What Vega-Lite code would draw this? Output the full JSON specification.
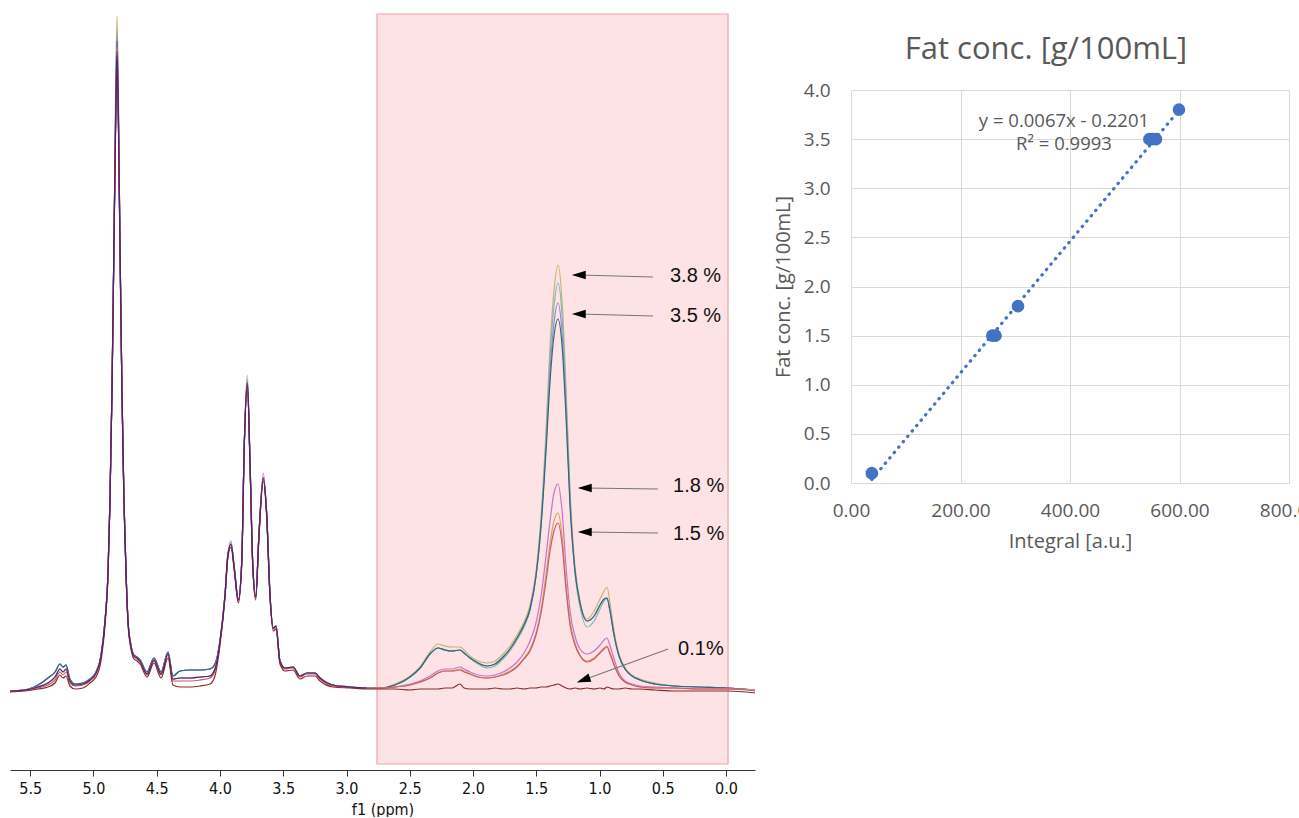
{
  "$schema": "https://vega.github.io/schema/vega-lite/v6.json",
  "padding": {"left": 10, "top": 13, "right": 0, "bottom": 0},
  "background": "white",
  "config": {"view": {"stroke": null}},
  "datasets": {
    "spec": [
      {"x":5.66,"a":0,"b":0,"c":0,"d":0,"e":0,"f":0,"g":0,"h":-1,"p":0},
      {"x":5.542,"a":1,"b":1,"c":1,"d":1,"e":1,"f":1,"g":1,"h":0,"p":1},
      {"x":5.439,"a":6,"b":6,"c":6,"d":6,"e":4,"f":4,"g":3,"h":2,"p":4},
      {"x":5.36,"a":13,"b":13,"c":13,"d":13,"e":8,"f":8,"g":6,"h":4,"p":8},
      {"x":5.304,"a":19,"b":19,"c":19,"d":19,"e":14,"f":14,"g":11,"h":8,"p":14},
      {"x":5.265,"a":27,"b":27,"c":27,"d":27,"e":22,"f":22,"g":19,"h":16,"p":22},
      {"x":5.241,"a":24,"b":24,"c":24,"d":24,"e":19,"f":19,"g":16,"h":13,"p":19},
      {"x":5.217,"a":26,"b":26,"c":26,"d":26,"e":22,"f":22,"g":19,"h":15,"p":22},
      {"x":5.186,"a":12,"b":12,"c":12,"d":12,"e":10,"f":10,"g":8,"h":5,"p":10},
      {"x":5.146,"a":7,"b":7,"c":7,"d":7,"e":6,"f":6,"g":5,"h":2,"p":6},
      {"x":5.083,"a":8,"b":8,"c":8,"d":8,"e":7,"f":7,"g":6,"h":3,"p":7},
      {"x":5.028,"a":12,"b":12,"c":12,"d":12,"e":11,"f":11,"g":10,"h":8,"p":11},
      {"x":4.98,"a":19,"b":19,"c":19,"d":19,"e":18,"f":18,"g":17,"h":14,"p":18},
      {"x":4.941,"a":35,"b":35,"c":35,"d":35,"e":35,"f":35,"g":34,"h":30,"p":35},
      {"x":4.909,"a":70,"b":70,"c":70,"d":70,"e":70,"f":70,"g":69,"h":66,"p":70},
      {"x":4.885,"a":120,"b":120,"c":120,"d":120,"e":120,"f":120,"g":119,"h":116,"p":120},
      {"x":4.87,"a":190,"b":190,"c":190,"d":190,"e":190,"f":190,"g":189,"h":186,"p":190},
      {"x":4.854,"a":300,"b":300,"c":300,"d":300,"e":300,"f":300,"g":299,"h":296,"p":300},
      {"x":4.838,"a":450,"b":450,"c":450,"d":450,"e":450,"f":450,"g":449,"h":446,"p":450},
      {"x":4.826,"a":590,"b":575,"c":570,"d":568,"e":565,"f":562,"g":560,"h":556,"p":560},
      {"x":4.814,"a":675,"b":660,"c":655,"d":650,"e":645,"f":642,"g":638,"h":635,"p":640},
      {"x":4.802,"a":590,"b":575,"c":570,"d":568,"e":565,"f":562,"g":560,"h":556,"p":560},
      {"x":4.791,"a":450,"b":450,"c":450,"d":450,"e":450,"f":450,"g":449,"h":446,"p":450},
      {"x":4.775,"a":300,"b":300,"c":300,"d":300,"e":300,"f":300,"g":299,"h":296,"p":300},
      {"x":4.759,"a":190,"b":190,"c":190,"d":190,"e":190,"f":190,"g":189,"h":186,"p":190},
      {"x":4.743,"a":120,"b":120,"c":120,"d":120,"e":120,"f":120,"g":119,"h":116,"p":120},
      {"x":4.727,"a":70,"b":70,"c":70,"d":70,"e":70,"f":70,"g":69,"h":67,"p":70},
      {"x":4.704,"a":46,"b":46,"c":46,"d":46,"e":45,"f":45,"g":44,"h":42,"p":45},
      {"x":4.68,"a":36,"b":36,"c":36,"d":36,"e":35,"f":35,"g":34,"h":32,"p":35},
      {"x":4.656,"a":34,"b":34,"c":34,"d":34,"e":33,"f":33,"g":32,"h":30,"p":33},
      {"x":4.632,"a":31,"b":31,"c":31,"d":31,"e":30,"f":30,"g":29,"h":27,"p":30},
      {"x":4.577,"a":19,"b":19,"c":19,"d":19,"e":17,"f":17,"g":16,"h":14,"p":17},
      {"x":4.522,"a":33,"b":33,"c":33,"d":33,"e":31,"f":31,"g":30,"h":28,"p":31},
      {"x":4.466,"a":19,"b":19,"c":19,"d":19,"e":17,"f":17,"g":16,"h":13,"p":17},
      {"x":4.411,"a":39,"b":39,"c":39,"d":39,"e":37,"f":37,"g":36,"h":33,"p":37},
      {"x":4.372,"a":15,"b":15,"c":15,"d":15,"e":12,"f":12,"g":10,"h":6,"p":12},
      {"x":4.316,"a":20,"b":20,"c":20,"d":20,"e":13,"f":13,"g":10,"h":4,"p":13},
      {"x":4.237,"a":21,"b":21,"c":21,"d":21,"e":13,"f":13,"g":10,"h":4,"p":13},
      {"x":4.158,"a":21,"b":21,"c":21,"d":21,"e":14,"f":14,"g":11,"h":5,"p":14},
      {"x":4.079,"a":22,"b":22,"c":22,"d":22,"e":15,"f":15,"g":13,"h":7,"p":15},
      {"x":4.04,"a":27,"b":27,"c":27,"d":27,"e":22,"f":22,"g":20,"h":15,"p":22},
      {"x":4.0,"a":50,"b":50,"c":50,"d":50,"e":50,"f":50,"g":49,"h":46,"p":50},
      {"x":3.96,"a":97,"b":97,"c":97,"d":97,"e":97,"f":97,"g":96,"h":94,"p":97},
      {"x":3.937,"a":137,"b":137,"c":137,"d":137,"e":137,"f":137,"g":136,"h":134,"p":137},
      {"x":3.913,"a":147,"b":147,"c":147,"d":147,"e":150,"f":147,"g":146,"h":144,"p":147},
      {"x":3.887,"a":123,"b":123,"c":123,"d":123,"e":123,"f":123,"g":122,"h":120,"p":123},
      {"x":3.855,"a":91,"b":91,"c":91,"d":91,"e":91,"f":91,"g":90,"h":88,"p":91},
      {"x":3.828,"a":130,"b":130,"c":130,"d":130,"e":130,"f":130,"g":129,"h":127,"p":130},
      {"x":3.808,"a":247,"b":247,"c":247,"d":247,"e":247,"f":247,"g":246,"h":244,"p":247},
      {"x":3.784,"a":316,"b":312,"c":310,"d":309,"e":310,"f":309,"g":308,"h":306,"p":308},
      {"x":3.763,"a":230,"b":230,"c":230,"d":230,"e":230,"f":230,"g":229,"h":227,"p":230},
      {"x":3.742,"a":130,"b":130,"c":130,"d":130,"e":130,"f":130,"g":129,"h":127,"p":130},
      {"x":3.718,"a":94,"b":94,"c":94,"d":94,"e":94,"f":94,"g":93,"h":91,"p":94},
      {"x":3.692,"a":157,"b":157,"c":157,"d":157,"e":157,"f":157,"g":156,"h":154,"p":157},
      {"x":3.658,"a":213,"b":213,"c":213,"d":213,"e":218,"f":214,"g":212,"h":210,"p":213},
      {"x":3.631,"a":177,"b":177,"c":177,"d":177,"e":177,"f":177,"g":176,"h":174,"p":177},
      {"x":3.605,"a":97,"b":97,"c":97,"d":97,"e":97,"f":97,"g":96,"h":94,"p":97},
      {"x":3.579,"a":63,"b":63,"c":63,"d":63,"e":63,"f":63,"g":62,"h":60,"p":63},
      {"x":3.557,"a":65,"b":65,"c":65,"d":65,"e":65,"f":65,"g":64,"h":62,"p":65},
      {"x":3.526,"a":30,"b":30,"c":30,"d":30,"e":30,"f":30,"g":29,"h":27,"p":30},
      {"x":3.486,"a":23,"b":23,"c":23,"d":23,"e":23,"f":23,"g":22,"h":20,"p":23},
      {"x":3.423,"a":24,"b":24,"c":24,"d":24,"e":24,"f":24,"g":23,"h":21,"p":24},
      {"x":3.368,"a":15,"b":15,"c":15,"d":15,"e":15,"f":15,"g":14,"h":12,"p":15},
      {"x":3.312,"a":18,"b":18,"c":18,"d":18,"e":18,"f":18,"g":17,"h":15,"p":18},
      {"x":3.249,"a":18,"b":18,"c":18,"d":18,"e":18,"f":18,"g":17,"h":15,"p":18},
      {"x":3.209,"a":13,"b":13,"c":13,"d":13,"e":13,"f":13,"g":12,"h":10,"p":13},
      {"x":3.107,"a":6,"b":6,"c":6,"d":6,"e":6,"f":6,"g":5,"h":4,"p":6},
      {"x":2.972,"a":4,"b":4,"c":4,"d":4,"e":4,"f":4,"g":4,"h":3,"p":4},
      {"x":2.838,"a":3,"b":3,"c":3,"d":3,"e":3,"f":3,"g":3,"h":2,"p":3},
      {"x":2.735,"a":3,"b":3,"c":3,"d":3,"e":3,"f":3,"g":3,"h":2},
      {"x":2.617,"a":7,"b":6,"c":6,"d":6,"e":4,"f":4,"g":4,"h":2},
      {"x":2.498,"a":15,"b":14,"c":14,"d":14,"e":7,"f":6,"g":6,"h":1},
      {"x":2.419,"a":24,"b":23,"c":23,"d":23,"e":10,"f":9,"g":9,"h":2},
      {"x":2.34,"a":39,"b":37,"c":37,"d":37,"e":15,"f":13,"g":13,"h":2},
      {"x":2.277,"a":47,"b":43,"c":43,"d":43,"e":20,"f":18,"g":18,"h":2},
      {"x":2.221,"a":45,"b":41,"c":41,"d":41,"e":22,"f":20,"g":20,"h":3},
      {"x":2.166,"a":44,"b":40,"c":40,"d":40,"e":22,"f":20,"g":20,"h":3},
      {"x":2.103,"a":44,"b":41,"c":41,"d":41,"e":24,"f":22,"g":21,"h":7},
      {"x":2.071,"a":41,"b":38,"c":38,"d":38,"e":22,"f":20,"g":19,"h":3},
      {"x":2.024,"a":35,"b":33,"c":33,"d":33,"e":19,"f":17,"g":17,"h":2},
      {"x":1.96,"a":30,"b":27,"c":28,"d":28,"e":16,"f":14,"g":14,"h":2},
      {"x":1.889,"a":28,"b":23,"c":25,"d":25,"e":15,"f":13,"g":13,"h":2},
      {"x":1.826,"a":30,"b":25,"c":27,"d":27,"e":16,"f":14,"g":14,"h":3},
      {"x":1.763,"a":37,"b":32,"c":34,"d":34,"e":19,"f":17,"g":16,"h":2},
      {"x":1.708,"a":45,"b":40,"c":42,"d":42,"e":23,"f":20,"g":19,"h":2},
      {"x":1.652,"a":56,"b":51,"c":53,"d":53,"e":29,"f":25,"g":24,"h":3},
      {"x":1.597,"a":69,"b":64,"c":66,"d":66,"e":38,"f":33,"g":32,"h":2},
      {"x":1.549,"a":86,"b":81,"c":82,"d":82,"e":50,"f":42,"g":40,"h":3},
      {"x":1.502,"a":120,"b":116,"c":115,"d":115,"e":68,"f":58,"g":56,"h":3},
      {"x":1.462,"a":175,"b":170,"c":167,"d":165,"e":95,"f":82,"g":78,"h":4},
      {"x":1.423,"a":260,"b":252,"c":245,"d":240,"e":135,"f":117,"g":110,"h":4},
      {"x":1.391,"a":345,"b":335,"c":320,"d":310,"e":170,"f":148,"g":140,"h":5},
      {"x":1.36,"a":400,"b":385,"c":368,"d":355,"e":198,"f":170,"g":160,"h":6},
      {"x":1.328,"a":426,"b":408,"c":388,"d":372,"e":207,"f":178,"g":168,"h":7},
      {"x":1.296,"a":390,"b":376,"c":358,"d":345,"e":180,"f":155,"g":147,"h":5},
      {"x":1.265,"a":305,"b":295,"c":283,"d":275,"e":125,"f":108,"g":102,"h":3},
      {"x":1.233,"a":200,"b":195,"c":190,"d":185,"e":80,"f":70,"g":66,"h":2},
      {"x":1.194,"a":125,"b":118,"c":120,"d":120,"e":55,"f":48,"g":46,"h":3},
      {"x":1.154,"a":90,"b":84,"c":88,"d":88,"e":42,"f":36,"g":35,"h":2},
      {"x":1.099,"a":72,"b":64,"c":70,"d":70,"e":37,"f":30,"g":29,"h":3},
      {"x":1.043,"a":80,"b":70,"c":75,"d":75,"e":40,"f":33,"g":32,"h":2},
      {"x":0.996,"a":92,"b":82,"c":86,"d":86,"e":46,"f":39,"g":38,"h":3},
      {"x":0.964,"a":100,"b":90,"c":92,"d":92,"e":51,"f":43,"g":42,"h":2},
      {"x":0.941,"a":104,"b":92,"c":93,"d":93,"e":53,"f":45,"g":44,"h":4},
      {"x":0.917,"a":88,"b":80,"c":80,"d":80,"e":45,"f":38,"g":37,"h":3},
      {"x":0.885,"a":60,"b":55,"c":56,"d":56,"e":32,"f":27,"g":26,"h":2},
      {"x":0.846,"a":37,"b":35,"c":35,"d":35,"e":18,"f":16,"g":15,"h":2},
      {"x":0.798,"a":23,"b":22,"c":22,"d":22,"e":10,"f":9,"g":9,"h":3},
      {"x":0.743,"a":16,"b":15,"c":15,"d":15,"e":7,"f":6,"g":6,"h":2},
      {"x":0.68,"a":12,"b":11,"c":11,"d":11,"e":5,"f":4,"g":4,"h":2},
      {"x":0.561,"a":8,"b":7,"c":7,"d":7,"e":4,"f":3,"g":3,"h":1},
      {"x":0.403,"a":5,"b":5,"c":5,"d":5,"e":3,"f":3,"g":3,"h":0},
      {"x":0.206,"a":4,"b":4,"c":4,"d":4,"e":2,"f":2,"g":2,"h":0},
      {"x":-0.008,"a":3,"b":3,"c":3,"d":3,"e":2,"f":2,"g":2,"h":0},
      {"x":-0.229,"a":1,"b":1,"c":1,"d":1,"e":1,"f":1,"g":0,"h":-2}
    ],
    "box": [{"x1": 2.759, "x2": -0.016, "y1": 677, "y2": -73}],
    "arrows": [
      {"k":"h","tx":0.577,"ty":414,"hx":1.164,"hy":416},
      {"k":"h","tx":0.577,"ty":375,"hx":1.164,"hy":377},
      {"k":"h","tx":0.538,"ty":202,"hx":1.117,"hy":203},
      {"k":"h","tx":0.538,"ty":158,"hx":1.117,"hy":159},
      {"k":"d","tx":0.458,"ty":42,"hx":1.128,"hy":11}
    ],
    "labels": [
      {"t":"3.8 %","x":0.443,"y":415},
      {"t":"3.5 %","x":0.443,"y":375},
      {"t":"1.8 %","x":0.419,"y":205},
      {"t":"1.5 %","x":0.419,"y":157},
      {"t":"0.1%","x":0.379,"y":42}
    ],
    "pts": [
      {"ix":38,"fc":0.1},
      {"ix":258,"fc":1.5},
      {"ix":264,"fc":1.5},
      {"ix":305,"fc":1.8},
      {"ix":545,"fc":3.5},
      {"ix":551,"fc":3.5},
      {"ix":557,"fc":3.5},
      {"ix":599,"fc":3.8}
    ],
    "trend": [
      {"ix":38,"fc":0.035},
      {"ix":599,"fc":3.793}
    ],
    "eq": [
      {"t":"y = 0.0067x - 0.2201","ix":389,"fc":3.684},
      {"t":"R² = 0.9993","ix":389,"fc":3.45}
    ]
  },
  "spacing": 18,
  "hconcat": [
    {
      "width": 745,
      "height": 756,
      "layer": [
        {
          "data": {"name": "box"},
          "mark": {"type": "rect", "fill": "#fde3e5", "stroke": "#f2a3a7", "strokeWidth": 1.2},
          "encoding": {
            "x": {
              "field": "x1", "type": "quantitative",
              "scale": {"domain": [-0.229, 5.66], "reverse": true, "nice": false, "zero": false},
              "axis": {
                "values": [0,0.25,0.5,0.75,1,1.25,1.5,1.75,2,2.25,2.5,2.75,3,3.25,3.5,3.75,4,4.25,4.5,4.75,5,5.25,5.5],
                "labelExpr": "abs(datum.value*2 - round(datum.value*2)) < 0.01 ? format(datum.value, '.1f') : ''",
                "tickSize": {"condition": {"test": "abs(datum.value*2 - round(datum.value*2)) < 0.01", "value": 6}, "value": 3},
                "labelOverlap": false,
                "labelFlush": false,
                "grid": false,
                "domainColor": "#333333",
                "tickColor": "#333333",
                "labelFont": "Liberation Sans Narrow, DejaVu Sans Condensed, sans-serif",
                "labelFontSize": 16,
                "labelColor": "#111111",
                "labelPadding": 4,
                "title": "f1 (ppm)",
                "titleFont": "Liberation Sans Narrow, DejaVu Sans Condensed, sans-serif",
                "titleFontSize": 16,
                "titleFontWeight": "normal",
                "titleColor": "#111111",
                "titlePadding": 5
              }
            },
            "x2": {"field": "x2"},
            "y": {
              "field": "y1", "type": "quantitative",
              "scale": {"domain": [-79, 677], "nice": false, "zero": false},
              "axis": null
            },
            "y2": {"field": "y2"}
          }
        },
        {
          "data": {"name": "spec"},
          "transform": [{"fold": ["a","b","c","d","e","f","g","h","p"], "as": ["s","v"]}],
          "mark": {"type": "line", "interpolate": "monotone", "clip": true},
          "encoding": {
            "x": {"field": "x", "type": "quantitative"},
            "y": {"field": "v", "type": "quantitative"},
            "color": {
              "field": "s", "type": "nominal", "legend": null,
              "scale": {"domain": ["a","b","c","d","e","f","g","h","p"],
                        "range": ["#c4b574","#86b4b2","#9388d2","#2f6a78","#c872cc","#d6a464","#c85a6e","#8e2a2a","#4b2479"]}
            },
            "strokeWidth": {
              "field": "s", "type": "nominal", "legend": null,
              "scale": {"domain": ["a","b","c","d","e","f","g","h","p"],
                        "range": [1.2,1.2,1.2,1.7,1.2,1.2,1.2,1.1,1.7]}
            }
          }
        },
        {
          "data": {"name": "arrows"},
          "mark": {"type": "rule", "color": "#777777", "strokeWidth": 1.1},
          "encoding": {
            "x": {"field": "tx", "type": "quantitative"},
            "x2": {"field": "hx"},
            "y": {"field": "ty", "type": "quantitative"},
            "y2": {"field": "hy"}
          }
        },
        {
          "data": {"name": "arrows"},
          "transform": [{"filter": "datum.k === 'h'"}],
          "mark": {"type": "point", "shape": "M-1,0L1,-0.62L1,0.62Z", "filled": true, "color": "#000000", "opacity": 1, "size": 196},
          "encoding": {
            "x": {"field": "hx", "type": "quantitative"},
            "y": {"field": "hy", "type": "quantitative"}
          }
        },
        {
          "data": {"name": "arrows"},
          "transform": [{"filter": "datum.k === 'd'"}],
          "mark": {"type": "point", "shape": "M-1,0L1,-0.62L1,0.62Z", "filled": true, "color": "#000000", "opacity": 1, "size": 196, "angle": -20},
          "encoding": {
            "x": {"field": "hx", "type": "quantitative"},
            "y": {"field": "hy", "type": "quantitative"}
          }
        },
        {
          "data": {"name": "labels"},
          "mark": {"type": "text", "align": "left", "baseline": "middle", "font": "Liberation Sans, Arial, sans-serif", "fontSize": 20, "color": "#111111"},
          "encoding": {
            "x": {"field": "x", "type": "quantitative"},
            "y": {"field": "y", "type": "quantitative"},
            "text": {"field": "t"}
          }
        }
      ]
    },
    {
      "spacing": 0,
      "vconcat": [
        {
          "width": 438,
          "height": 20,
          "data": {"values": [{}]},
          "mark": {"type": "text", "text": ""},
          "encoding": {}
        },
        {
          "width": 438,
          "height": 393,
          "title": {"text": "Fat conc. [g/100mL]", "font": "Open Sans", "fontSize": 31, "fontWeight": "normal", "color": "#595959", "offset": 15, "anchor": "middle", "frame": "bounds"},
          "layer": [
            {
              "data": {"name": "trend"},
              "mark": {"type": "line", "color": "#4472c4", "strokeWidth": 3.2, "strokeDash": [0.5, 6.5], "strokeCap": "round"},
              "encoding": {
                "x": {
                  "field": "ix", "type": "quantitative",
                  "scale": {"domain": [0, 800], "nice": false, "zero": false},
                  "axis": {
                    "values": [0,200,400,600,800], "format": ".2f",
                    "title": "Integral [a.u.]",
                    "grid": true, "gridColor": "#d9d9d9", "domainColor": "#d9d9d9", "ticks": false,
                    "labelFont": "Open Sans", "labelFontSize": 19, "labelColor": "#595959", "labelPadding": 18, "labelFlush": false,
                    "titleFont": "Open Sans", "titleFontSize": 20, "titleFontWeight": "normal", "titleColor": "#595959", "titlePadding": 11
                  }
                },
                "y": {
                  "field": "fc", "type": "quantitative",
                  "scale": {"domain": [0, 4], "nice": false, "zero": false},
                  "axis": {
                    "values": [0,0.5,1,1.5,2,2.5,3,3.5,4], "format": ".1f",
                    "title": "Fat conc. [g/100mL]",
                    "grid": true, "gridColor": "#d9d9d9", "domain": false, "ticks": false,
                    "labelFont": "Open Sans", "labelFontSize": 19, "labelColor": "#595959", "labelPadding": 21, "labelFlush": false,
                    "titleFont": "Open Sans", "titleFontSize": 20, "titleFontWeight": "normal", "titleColor": "#595959", "titlePadding": 10
                  }
                }
              }
            },
            {
              "data": {"name": "pts"},
              "mark": {"type": "point", "filled": true, "color": "#4472c4", "opacity": 1, "size": 160},
              "encoding": {
                "x": {"field": "ix", "type": "quantitative"},
                "y": {"field": "fc", "type": "quantitative"}
              }
            },
            {
              "data": {"name": "eq"},
              "mark": {"type": "text", "font": "Open Sans", "fontSize": 18.5, "color": "#595959", "align": "center", "baseline": "middle"},
              "encoding": {
                "x": {"field": "ix", "type": "quantitative"},
                "y": {"field": "fc", "type": "quantitative"},
                "text": {"field": "t"}
              }
            }
          ]
        }
      ]
    }
  ]
}
